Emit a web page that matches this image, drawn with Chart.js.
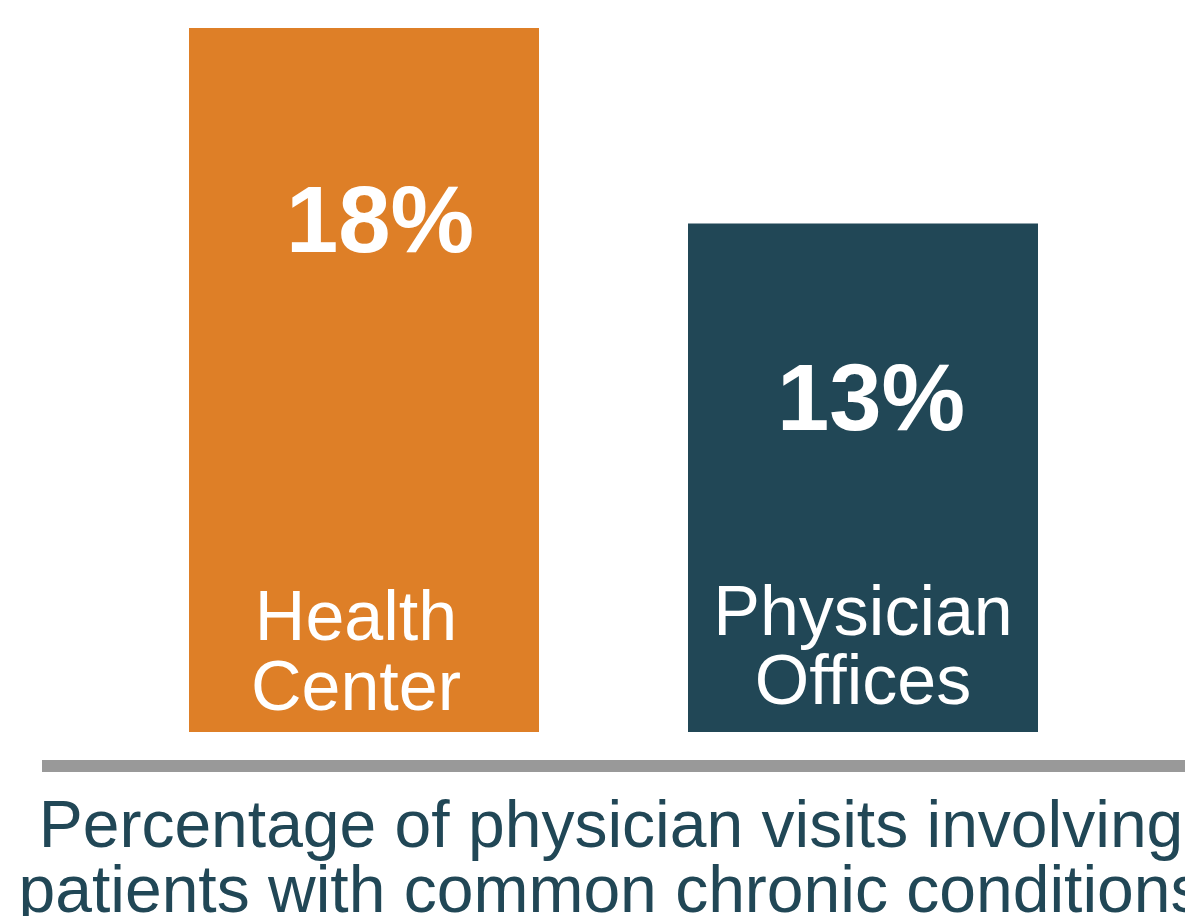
<!DOCTYPE html>
<html>
<head>
<meta charset="utf-8">
<script src="https://cdn.jsdelivr.net/npm/chart.js@4.4.0/dist/chart.umd.min.js"></script>
<style>
  html, body { margin: 0; padding: 0; background: #fff; overflow: hidden; }
  #wrap { position: relative; width: 1185px; height: 916px; }
</style>
</head>
<body>
<div id="wrap"><canvas id="chart" width="1185" height="916"></canvas></div>
<script>
// data
const categories = [["Health", "Center"], ["Physician", "Offices"]];
const values = [18, 13];
const valueLabels = ["18%", "13%"];
const caption = [
  "Percentage of physician visits involving",
  "patients with common chronic conditions"
];

const barColors = ["#DE7F27", "#214756"];
const textNavy = "#214756";
const FONT = "'Liberation Sans', Arial, sans-serif";

// labels drawn inside each bar + the grey rule and caption under the chart
const barTextPlugin = {
  id: "barText",
  afterDatasetsDraw(chart) {
    const ctx = chart.ctx;
    const meta = chart.getDatasetMeta(0);
    ctx.save();
    ctx.fillStyle = "#fff";
    ctx.textAlign = "center";
    ctx.textBaseline = "alphabetic";
    meta.data.forEach((bar, i) => {
      // value in bold, a bit below the bar top
      ctx.font = "bold 94px " + FONT;
      const dx = i === 0 ? 16 : 8;
      const dy = i === 0 ? 224 : 206;
      ctx.fillText(valueLabels[i], bar.x + dx, bar.y + dy);
      // category name near the bar bottom
      ctx.font = "70px " + FONT;
      const shift = i === 0 ? -8 : 0;
      const lines = categories[i];
      ctx.fillText(lines[0], bar.x + shift, bar.base - (i === 0 ? 92 : 97));
      ctx.fillText(lines[1], bar.x + shift, bar.base - (i === 0 ? 22 : 28));
    });
    ctx.restore();
  },
  afterDraw(chart) {
    const ctx = chart.ctx;
    const area = chart.chartArea;
    ctx.save();
    // grey baseline rule
    ctx.fillStyle = "#999999";
    ctx.fillRect(42, area.bottom + 28, chart.width - 42, 12);
    // caption
    ctx.fillStyle = textNavy;
    ctx.font = "66px " + FONT;
    ctx.textAlign = "center";
    ctx.textBaseline = "alphabetic";
    ctx.fillText(caption[0], 611, area.bottom + 115);
    ctx.fillText(caption[1], 611, area.bottom + 180);
    ctx.restore();
  }
};

new Chart(document.getElementById("chart"), {
  type: "bar",
  data: {
    labels: categories,
    datasets: [{
      data: values,
      backgroundColor: barColors,
      borderWidth: 0,
      barPercentage: 1,
      categoryPercentage: 0.7014
    }]
  },
  options: {
    responsive: false,
    animation: false,
    devicePixelRatio: 1,
    layout: { padding: { top: 28, bottom: 184, left: 114.5, right: 72.5 } },
    scales: {
      x: { display: false },
      y: { display: false, min: 0, max: 18 }
    },
    plugins: {
      legend: { display: false },
      tooltip: { enabled: false }
    }
  },
  plugins: [barTextPlugin]
});
</script>
</body>
</html>
